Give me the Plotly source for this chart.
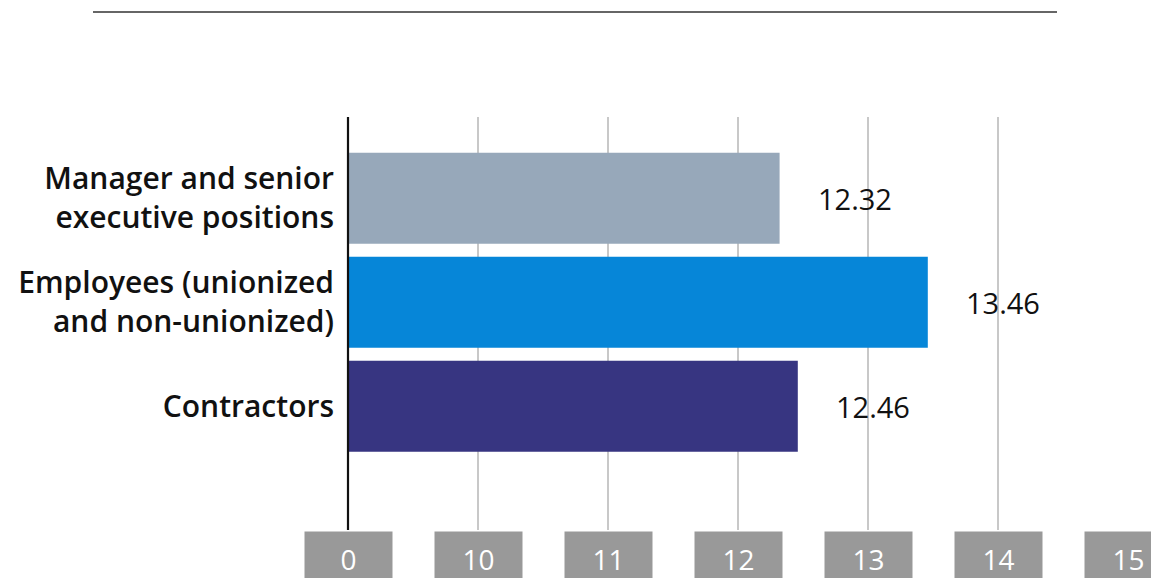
import plotly.graph_objects as go

categories = ["Manager and senior<br>executive positions",
              "Employees (unionized<br>and non-unionized)",
              "Contractors"]
values = [12.32, 13.46, 12.46]
value_labels = ["12.32", "13.46", "12.46"]
bar_colors = ["#97A8BA", "#0686D8", "#373581"]
tick_vals = [9, 10, 11, 12, 13, 14, 15]
tick_text = ["0", "10", "11", "12", "13", "14", "15"]

# page body has an 8px margin, so the figure is drawn 8px smaller
W, H = 1151, 570
L, R, T, B = 340, 31, 109, 48
PW = W - L - R
PH = H - T - B

fig = go.Figure()
fig.add_trace(go.Bar(
    x=values, y=categories, orientation="h",
    marker=dict(color=bar_colors, line=dict(width=0)),
    width=0.875, hoverinfo="skip", showlegend=False,
))

annotations = []
for v, c, t in zip(values, categories, value_labels):
    annotations.append(dict(x=v, y=c, xref="x", yref="y", text=t, showarrow=False,
                            xanchor="left", yanchor="middle", xshift=36,
                            font=dict(family="Open Sans", size=29, color="#111111")))
for tv, tt in zip(tick_vals, tick_text):
    annotations.append(dict(x=tv, y=0, xref="x", yref="paper", text=tt, showarrow=False,
                            xanchor="center", yanchor="top", yshift=-1,
                            width=87, height=54, bgcolor="#999999", borderpad=0,
                            font=dict(family="Open Sans", size=28, color="#ffffff")))

top_y = (H - B - 4) / PH
shapes = [
    dict(type="line", xref="paper", yref="paper", x0=(85 - L) / PW,
         x1=(1049 - L) / PW, y0=top_y, y1=top_y,
         line=dict(color="#333333", width=1.5)),
    dict(type="line", xref="paper", yref="paper", x0=0, x1=0, y0=0, y1=1,
         line=dict(color="#111111", width=2.2)),
]

fig.update_layout(
    width=W, height=H,
    margin=dict(l=L, r=R, t=T, b=B, pad=0, autoexpand=False),
    paper_bgcolor="white", plot_bgcolor="white",
    xaxis=dict(range=[9, 15], tickvals=tick_vals, ticktext=tick_text, showticklabels=False,
               showgrid=True, gridcolor="#C8C8C8", gridwidth=1.5, zeroline=False,
               showline=False, fixedrange=True, automargin=False),
    yaxis=dict(type="category", categoryorder="array", categoryarray=categories,
               range=[2 + 1.19, -0.78], showgrid=False, zeroline=False, showline=False,
               ticks="", ticklabelstandoff=13, automargin=False,
               tickfont=dict(family="Open Sans", size=30, color="#111111", weight=600)),
    annotations=annotations,
    shapes=shapes,
)
fig.write_html("out.html")
